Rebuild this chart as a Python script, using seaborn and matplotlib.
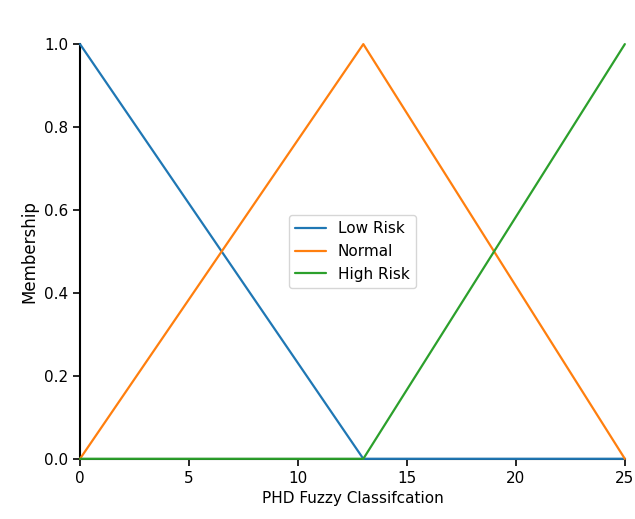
import pandas as pd
import seaborn as sns
import matplotlib.pyplot as plt

# membership functions (triangular), breakpoints
x_points = [0, 13, 25]
low_risk = [1.0, 0.0, 0.0]
normal = [0.0, 1.0, 0.0]
high_risk = [0.0, 0.0, 1.0]
labels = ["Low Risk", "Normal", "High Risk"]

df = pd.DataFrame({
    "x": x_points * 3,
    "Membership": low_risk + normal + high_risk,
    "set": [labels[0]] * 3 + [labels[1]] * 3 + [labels[2]] * 3,
})

sns.set_style("ticks")
plt.rcParams["font.family"] = ["DejaVu Sans"]
plt.rcParams["text.color"] = "black"
plt.rcParams["axes.labelcolor"] = "black"

fig = plt.figure(figsize=(6.35, 5.19), dpi=100)
ax = fig.add_axes([0.126, 0.116, 0.858, 0.799])

sns.lineplot(data=df, x="x", y="Membership", hue="set", hue_order=labels,
             palette=["#1f77b4", "#ff7f0e", "#2ca02c"], linewidth=1.6,
             sort=False, ax=ax)

ax.set_xlim(0, 25)
ax.set_ylim(0, 1.0)
ax.set_yticks([0.0, 0.2, 0.4, 0.6, 0.8, 1.0])
ax.set_xticks([0, 5, 10, 15, 20, 25])
ax.tick_params(labelsize=11, colors="black", length=5, width=1.2)
ax.set_xlabel("PHD Fuzzy Classifcation", fontsize=11)
ax.set_ylabel("Membership", fontsize=12)
for s in ["top", "right"]:
    ax.spines[s].set_visible(False)
for s in ["left", "bottom"]:
    ax.spines[s].set_color("black")
    ax.spines[s].set_linewidth(1.5)
for line in ax.lines:
    line.set_clip_on(False)
    line.set_zorder(3)

ax.legend(loc="center", fontsize=11, title=None)

fig.savefig("out.png", dpi=100)
